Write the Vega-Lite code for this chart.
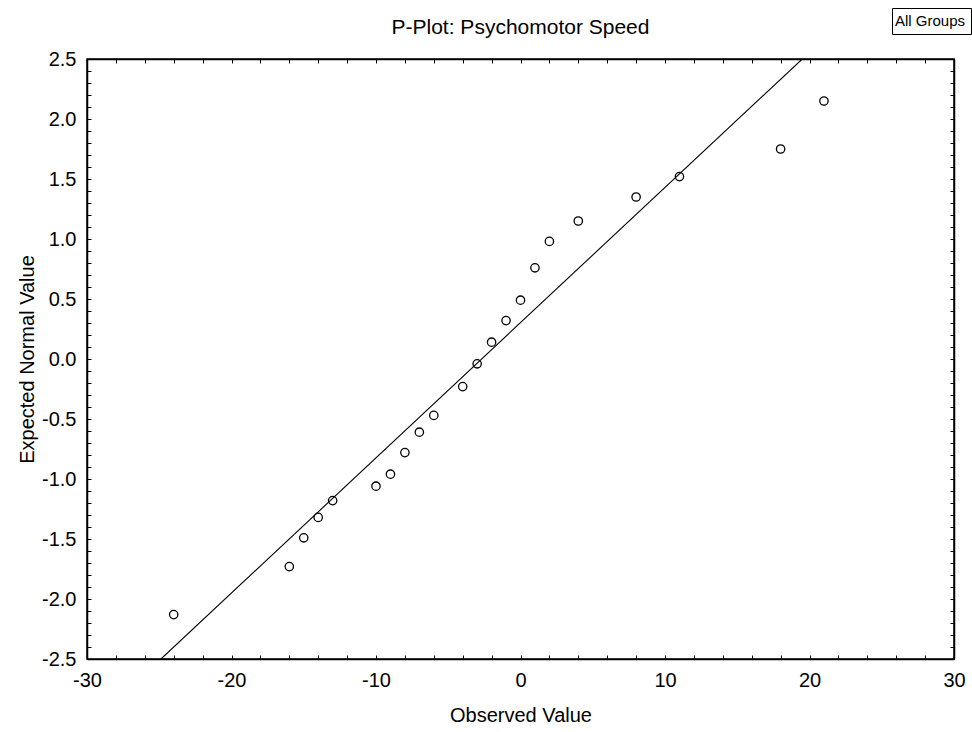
{
  "$schema": "https://vega.github.io/schema/vega-lite/v6.json",
  "width": 867,
  "height": 600,
  "autosize": {"type": "none"},
  "padding": {"left": 87, "top": 59, "right": 18, "bottom": 73},
  "background": "white",
  "config": {
    "font": "Liberation Sans",
    "view": {"stroke": "black", "strokeWidth": 1.5},
    "axis": {"grid": false, "domainColor": "black", "domainWidth": 1.5, "tickColor": "black", "labelColor": "black", "titleColor": "black", "labelFont": "Liberation Sans", "titleFont": "Liberation Sans", "labelFontSize": 20, "titleFontSize": 20, "titleFontWeight": "normal"}
  },
  "title": {"text": "P-Plot: Psychomotor Speed", "fontSize": 21, "fontWeight": "normal", "font": "Liberation Sans", "color": "black", "offset": -30, "anchor": "middle"},
  "datasets": {
    "pts": [
      {"obs": -24, "exp": -2.13},
      {"obs": -16, "exp": -1.73},
      {"obs": -15, "exp": -1.49},
      {"obs": -14, "exp": -1.32},
      {"obs": -13, "exp": -1.18},
      {"obs": -10, "exp": -1.06},
      {"obs": -9, "exp": -0.96},
      {"obs": -8, "exp": -0.78},
      {"obs": -7, "exp": -0.61},
      {"obs": -6, "exp": -0.47},
      {"obs": -4, "exp": -0.23},
      {"obs": -3, "exp": -0.04},
      {"obs": -2, "exp": 0.14},
      {"obs": -1, "exp": 0.32},
      {"obs": 0, "exp": 0.49},
      {"obs": 1, "exp": 0.76},
      {"obs": 2, "exp": 0.98},
      {"obs": 4, "exp": 1.15},
      {"obs": 8, "exp": 1.35},
      {"obs": 11, "exp": 1.52},
      {"obs": 18, "exp": 1.75},
      {"obs": 21, "exp": 2.15}
    ],
    "fit": [
      {"obs": -24.88, "exp": -2.5},
      {"obs": 19.5, "exp": 2.5}
    ]
  },
  "layer": [
    {
      "data": {"name": "pts"},
      "mark": {"type": "point", "shape": "circle", "filled": false, "size": 70, "strokeWidth": 1.3, "opacity": 1},
      "encoding": {
        "x": {"field": "obs", "type": "quantitative", "title": "Observed Value",
          "scale": {"domain": [-30, 30], "nice": false, "zero": false},
          "axis": {"orient": "bottom", "values": [-30,-28,-26,-24,-22,-20,-18,-16,-14,-12,-10,-8,-6,-4,-2,0,2,4,6,8,10,12,14,16,18,20,22,24,26,28,30],
            "labelExpr": "datum.value % 10 == 0 ? (datum.value < 0 ? '-' + format(-datum.value, 'd') : format(datum.value, 'd')) : ''",
            "tickSize": -4, "labelPadding": 15, "titlePadding": 15, "labelFlush": false}},
        "y": {"field": "exp", "type": "quantitative", "title": "Expected Normal Value",
          "scale": {"domain": [-2.5, 2.5], "nice": false, "zero": false},
          "axis": {"orient": "left", "values": [-2.5,-2.4,-2.3,-2.2,-2.1,-2.0,-1.9,-1.8,-1.7,-1.6,-1.5,-1.4,-1.3,-1.2,-1.1,-1.0,-0.9,-0.8,-0.7,-0.6,-0.5,-0.4,-0.3,-0.2,-0.1,0,0.1,0.2,0.3,0.4,0.5,0.6,0.7,0.8,0.9,1.0,1.1,1.2,1.3,1.4,1.5,1.6,1.7,1.8,1.9,2.0,2.1,2.2,2.3,2.4,2.5],
            "labelExpr": "abs(datum.value * 2 - round(datum.value * 2)) < 0.001 ? (datum.value < -0.001 ? '-' + format(-datum.value, '.1f') : format(abs(datum.value), '.1f')) : ''",
            "tickSize": -4, "labelPadding": 15, "titlePadding": 4, "labelFlush": false}},
        "color": {"datum": "All Groups", "type": "nominal", "scale": {"range": ["black"]},
          "legend": {"title": null, "orient": "none", "legendX": 805, "legendY": -51, "symbolSize": 0, "symbolStrokeWidth": 0, "symbolOpacity": 0, "labelFontSize": 15, "labelFont": "Liberation Sans", "labelColor": "black", "strokeColor": "black", "padding": 5, "labelOffset": -17, "symbolLimit": 1}}
      }
    },
    {
      "data": {"name": "fit"},
      "mark": {"type": "line", "color": "black", "strokeWidth": 1.1, "clip": true},
      "encoding": {
        "x": {"field": "obs", "type": "quantitative",
          "axis": {"orient": "top", "labels": false, "title": null, "values": [-30,-28,-26,-24,-22,-20,-18,-16,-14,-12,-10,-8,-6,-4,-2,0,2,4,6,8,10,12,14,16,18,20,22,24,26,28,30], "tickSize": -4}},
        "y": {"field": "exp", "type": "quantitative",
          "axis": {"orient": "right", "labels": false, "title": null, "values": [-2.5,-2.4,-2.3,-2.2,-2.1,-2.0,-1.9,-1.8,-1.7,-1.6,-1.5,-1.4,-1.3,-1.2,-1.1,-1.0,-0.9,-0.8,-0.7,-0.6,-0.5,-0.4,-0.3,-0.2,-0.1,0,0.1,0.2,0.3,0.4,0.5,0.6,0.7,0.8,0.9,1.0,1.1,1.2,1.3,1.4,1.5,1.6,1.7,1.8,1.9,2.0,2.1,2.2,2.3,2.4,2.5], "tickSize": -4}}
      }
    }
  ],
  "resolve": {"axis": {"x": "independent", "y": "independent"}}
}
